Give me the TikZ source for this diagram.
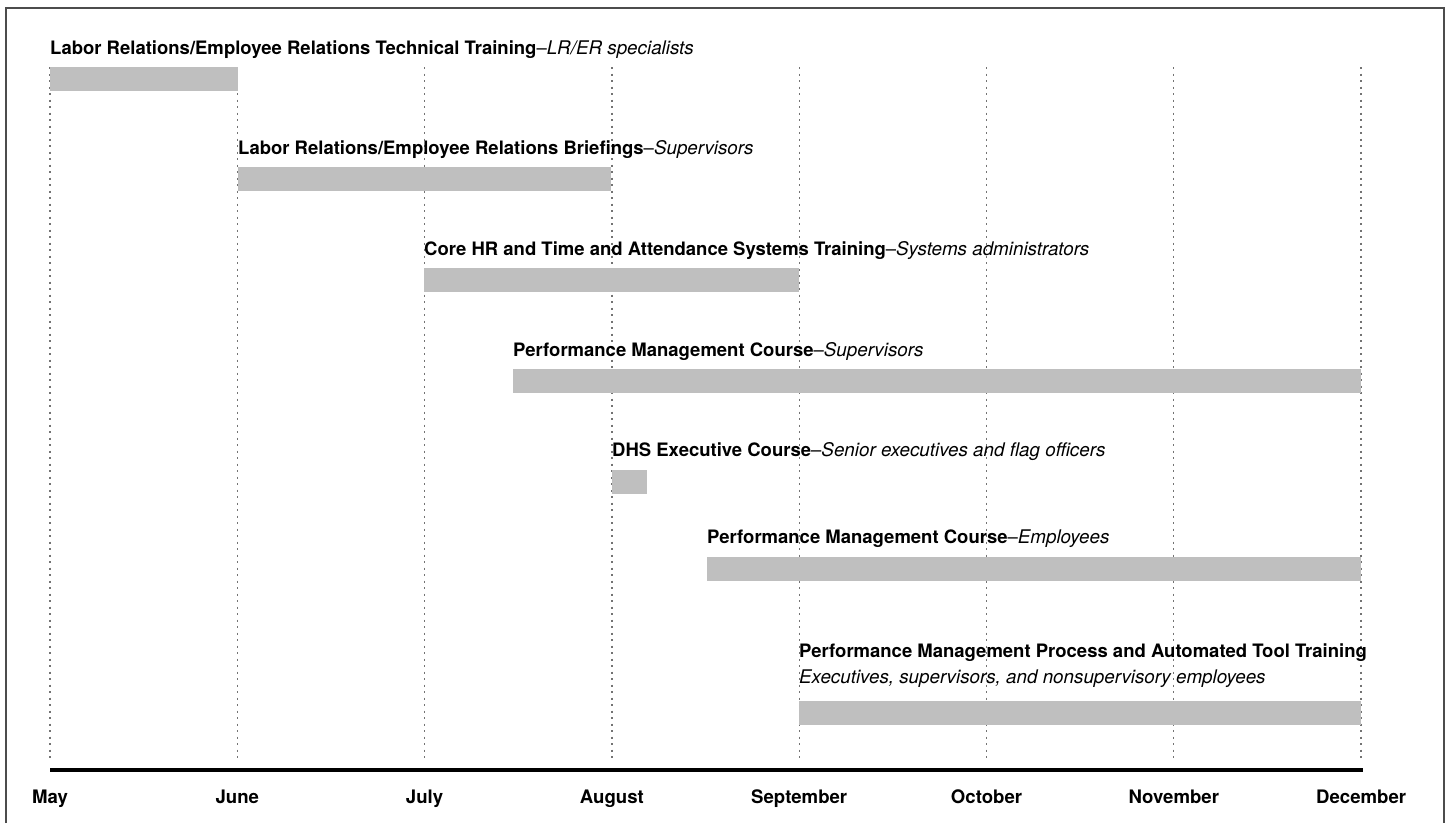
\documentclass[tikz,border=0pt]{standalone}
\usepackage{fontspec}
\setmainfont{TeX Gyre Heros}
\definecolor{barfill}{gray}{0.75}
\newcommand{\who}[1]{{\fontsize{18.8}{22}\selectfont\textit{#1}}}
\begin{document}
\begin{tikzpicture}[x=1pt, y=-1pt,
  bar/.style = {fill=barfill, inner sep=0pt, outer sep=0pt, minimum height=24pt, anchor=north west},
  title/.style = {inner sep=0pt, anchor=base west, font=\fontsize{18.5}{22}\selectfont},
  month/.style = {inner sep=0pt, anchor=base, font=\fontsize{18.6}{22}\selectfont\bfseries},
  grid/.style = {black!55, line width=1.3pt, dash pattern=on 2pt off 4.5pt}]
\useasboundingbox (0,0) rectangle (1448,823);
\draw[line width=1.5pt, black!70] (6,823) -- (6,8) -- (1444,8) -- (1444,823);

% months and grid
\foreach \m [count=\i from 0] in {May,June,July,August,September,October,November,December} {
  \coordinate (g\i) at (50+187.3*\i,67);
  \coordinate (h\i) at (50+187.3*\i,762);
  \draw[grid] (g\i) -- (h\i);
  \node[month] (m\i) at (50+187.3*\i,803) {\m};
}
\draw[line width=4pt] (50,770) -- (1363,770);

% bars
\node[bar, minimum width=188pt] (b1) at (50,67) {};
\node[bar, minimum width=373pt] (b2) at (238,167) {};
\node[bar, minimum width=375pt] (b3) at (424,268) {};
\node[bar, minimum width=848pt] (b4) at (513,369) {};
\node[bar, minimum width=35pt] (b5) at (612,470) {};
\node[bar, minimum width=654pt] (b6) at (707,557) {};
\node[bar, minimum width=562pt] (b7) at (799,701) {};

% titles
\node[title] (t1) at ([yshift=13pt]b1.north west) {\textbf{Labor Relations/Employee Relations Technical Training}--\who{LR/ER specialists}};
\node[title] (t2) at ([yshift=13pt]b2.north west) {\textbf{Labor Relations/Employee Relations Briefings}--\who{Supervisors}};
\node[title] (t3) at ([yshift=13pt]b3.north west) {\textbf{Core HR and Time and Attendance Systems Training}--\who{Systems administrators}};
\node[title] (t4) at ([yshift=13pt]b4.north west) {\textbf{Performance Management Course}--\who{Supervisors}};
\node[title] (t5) at ([yshift=14pt]b5.north west) {\textbf{DHS Executive Course}--\who{Senior executives and flag officers}};
\node[title] (t6) at ([yshift=14pt]b6.north west) {\textbf{Performance Management Course}--\who{Employees}};
\node[title] (t7) at ([yshift=44pt]b7.north west) {\textbf{Performance Management Process and Automated Tool Training}};
\node[title] (t7b) at ([yshift=18pt]b7.north west) {\who{Executives, supervisors, and nonsupervisory employees}};
\end{tikzpicture}
\end{document}
